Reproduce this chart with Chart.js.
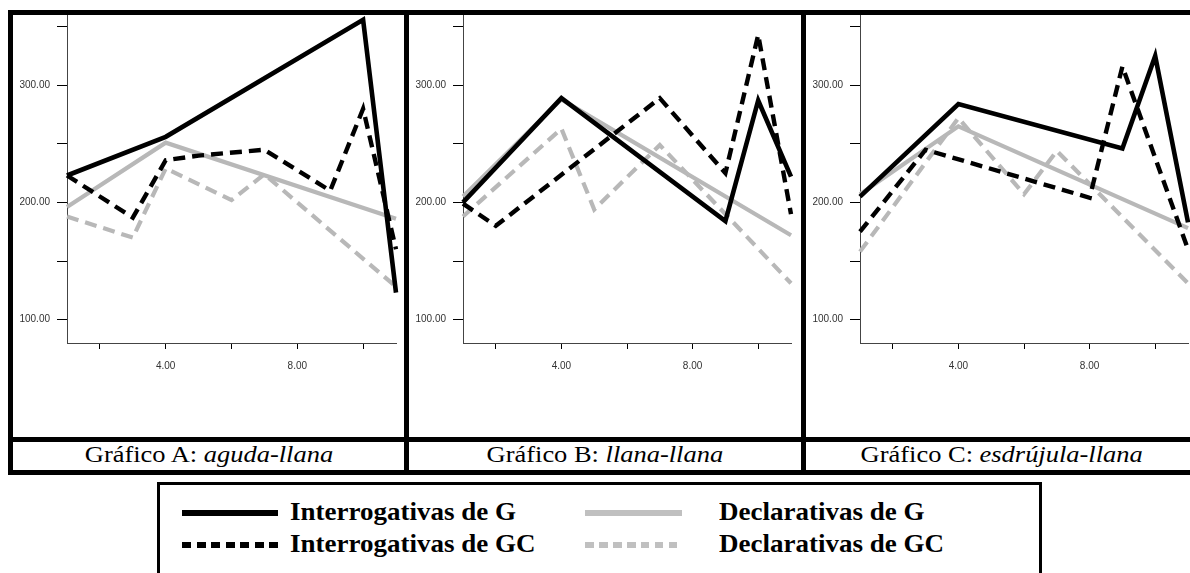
<!DOCTYPE html>
<html>
<head>
<meta charset="utf-8">
<script src="https://cdn.jsdelivr.net/npm/chart.js@4.4.1/dist/chart.umd.min.js"></script>
<style>
  html, body { margin: 0; padding: 0; background: #fff; }
  #fig { position: relative; width: 1190px; height: 573px; overflow: hidden; background: #fff; }
  .panel { position: absolute; top: 15px; height: 422px; }
  .panel canvas { display: block; }
  .bar { position: absolute; background: #000; z-index: 5; }
  .cap { position: absolute; top: 443px; height: 26px; line-height: 23px; text-align: center;
         font-family: "Liberation Serif", "Times New Roman", serif; font-size: 23px; color: #000; white-space: nowrap; }
  .cap span { display: inline-block; transform: scaleX(1.15); }
  .cap i { font-style: italic; }
  #legend { position: absolute; left: 157px; top: 482px; width: 885px; height: 120px; border: 3px solid #000; box-sizing: border-box; }
  .lg-line { position: absolute; height: 6px; }
  .lg-text { position: absolute; font-family: "Liberation Serif", "Times New Roman", serif; font-weight: bold;
             font-size: 25px; line-height: 25px; white-space: nowrap; transform-origin: left center; transform: scaleX(1.08); }
</style>
</head>
<body>
<div id="fig">
  <div class="panel" style="left:13px;width:391px"><canvas id="chartA" width="391" height="422"></canvas></div>
  <div class="panel" style="left:409px;width:392px"><canvas id="chartB" width="392" height="422"></canvas></div>
  <div class="panel" style="left:806px;width:392px"><canvas id="chartC" width="392" height="422"></canvas></div>

  <!-- table frame -->
  <div class="bar" style="left:8px;top:10px;width:1200px;height:5px"></div>
  <div class="bar" style="left:8px;top:10px;width:5px;height:465px"></div>
  <div class="bar" style="left:404px;top:10px;width:5px;height:465px"></div>
  <div class="bar" style="left:801px;top:10px;width:5px;height:465px"></div>
  <div class="bar" style="left:8px;top:437px;width:1200px;height:5px"></div>
  <div class="bar" style="left:8px;top:470px;width:1200px;height:5px"></div>

  <div class="cap" style="left:13px;width:391px"><span>Gráfico A: <i>aguda-llana</i></span></div>
  <div class="cap" style="left:409px;width:392px"><span>Gráfico B: <i>llana-llana</i></span></div>
  <div class="cap" style="left:806px;width:392px"><span>Gráfico C: <i>esdrújula-llana</i></span></div>

  <div id="legend"></div>
  <div class="lg-line" style="left:182px;top:510px;width:96px;background:#000"></div>
  <div class="lg-line" style="left:182px;top:542px;width:96px;background:repeating-linear-gradient(to right,#000 0 9px,transparent 9px 14.5px)"></div>
  <div class="lg-line" style="left:585px;top:510px;width:97px;background:#c0c0c0"></div>
  <div class="lg-line" style="left:585px;top:542px;width:97px;background:repeating-linear-gradient(to right,#c0c0c0 0 8.5px,transparent 8.5px 14px)"></div>
  <div class="lg-text" style="left:290px;top:499px">Interrogativas de G</div>
  <div class="lg-text" style="left:290px;top:531px">Interrogativas de GC</div>
  <div class="lg-text" style="left:719px;top:499px">Declarativas de G</div>
  <div class="lg-text" style="left:719px;top:531px">Declarativas de GC</div>
</div>

<script>
// Measurement points along the utterance (x axis)
const xValues = [1, 2, 3, 4, 5, 6, 7, 8, 9, 10, 11];

// Axis ticks
const xTickValues = [2, 4, 6, 8, 10];
const xTickLabels = ['', '4.00', '', '8.00', ''];
const yTickValues = [100, 150, 200, 250, 300, 350];
const yTickLabels = ['100.00', '', '200.00', '', '300.00', ''];

// Gráfico A: aguda-llana (Hz)
const aIntG  = [223, null, null, 256, null, null, null, null, null, 356, 123];
const aIntGC = [223, null, 187, 236, 240, null, 245, null, 210, 280, 160];
const aDecG  = [196, null, null, 251, null, null, null, null, null, null, 186];
const aDecGC = [188, null, 170, 229, null, 202, 224, null, null, null, 128];

// Gráfico B: llana-llana (Hz)
const bIntG  = [200, null, null, 289, null, null, null, null, 184, 287, 222];
const bIntGC = [199, 180, null, null, null, null, 289, null, 225, 343, 190];
const bDecG  = [205, null, null, 288, null, null, null, null, null, null, 172];
const bDecGC = [188, null, null, 263, 194, null, 249, null, null, null, 131];

// Gráfico C: esdrújula-llana (Hz)
const cIntG  = [205, null, null, 284, null, null, null, null, 246, 325, 183];
const cIntGC = [175, null, 245, null, null, null, null, 204, 316, null, 160];
const cDecG  = [207, null, null, 265, null, null, null, null, null, null, 178];
const cDecGC = [158, null, null, 272, null, 207, 244, null, null, null, 131];

const BLACK = '#000000';
const GREY = '#b8b8b8';
const DASH = [12, 7];

function points(arr) {
  return xValues.map((x, i) => ({ x: x, y: arr[i] }));
}

function series(intG, intGC, decG, decGC) {
  const base = { pointRadius: 0, spanGaps: true, clip: false, tension: 0,
                 borderJoinStyle: 'miter', borderCapStyle: 'butt', fill: false };
  // first dataset is painted last (on top)
  return [
    Object.assign({}, base, { label: 'Interrogativas de G',  data: points(intG),  borderColor: BLACK, borderWidth: 4.6 }),
    Object.assign({}, base, { label: 'Interrogativas de GC', data: points(intGC), borderColor: BLACK, borderWidth: 4.4, borderDash: DASH }),
    Object.assign({}, base, { label: 'Declarativas de G',    data: points(decG),  borderColor: GREY,  borderWidth: 4.2 }),
    Object.assign({}, base, { label: 'Declarativas de GC',   data: points(decGC), borderColor: GREY,  borderWidth: 4.2, borderDash: DASH })
  ];
}

const tickFont = { family: "'Liberation Sans', Arial, sans-serif", size: 10 };

function options(rightPad) {
  return {
    responsive: false,
    animation: false,
    devicePixelRatio: 1,
    layout: { padding: { left: 0, top: 0, right: rightPad, bottom: 0 } },
    plugins: { legend: { display: false }, tooltip: { enabled: false } },
    scales: {
      x: {
        type: 'linear', min: 1, max: 11,
        afterBuildTicks: s => { s.ticks = xTickValues.map(v => ({ value: v })); },
        afterFit: s => { s.height = 94; s.paddingLeft = 0; s.paddingRight = 0; },
        ticks: { autoSkip: false, maxRotation: 0, padding: 11, color: '#333', font: tickFont,
                 callback: (v, i) => xTickLabels[i] },
        grid: { drawOnChartArea: false, drawTicks: true, tickLength: 6, color: '#000', lineWidth: 1 },
        border: { display: true, color: '#444', width: 1 }
      },
      y: {
        type: 'linear', min: 80, max: 360,
        afterBuildTicks: s => { s.ticks = yTickValues.map(v => ({ value: v })); },
        afterFit: s => { s.width = 54; s.paddingTop = 0; s.paddingBottom = 0; },
        ticks: { autoSkip: false, padding: 7, color: '#333', font: tickFont,
                 callback: (v, i) => yTickLabels[i] },
        grid: { drawOnChartArea: false, drawTicks: true, tickLength: 10, color: '#000', lineWidth: 1 },
        border: { display: true, color: '#444', width: 1 }
      }
    }
  };
}

new Chart(document.getElementById('chartA'), {
  type: 'line', data: { datasets: series(aIntG, aIntGC, aDecG, aDecGC) }, options: options(8)
});
new Chart(document.getElementById('chartB'), {
  type: 'line', data: { datasets: series(bIntG, bIntGC, bDecG, bDecGC) }, options: options(10)
});
new Chart(document.getElementById('chartC'), {
  type: 'line', data: { datasets: series(cIntG, cIntGC, cDecG, cDecGC) }, options: options(10)
});
</script>
</body>
</html>
